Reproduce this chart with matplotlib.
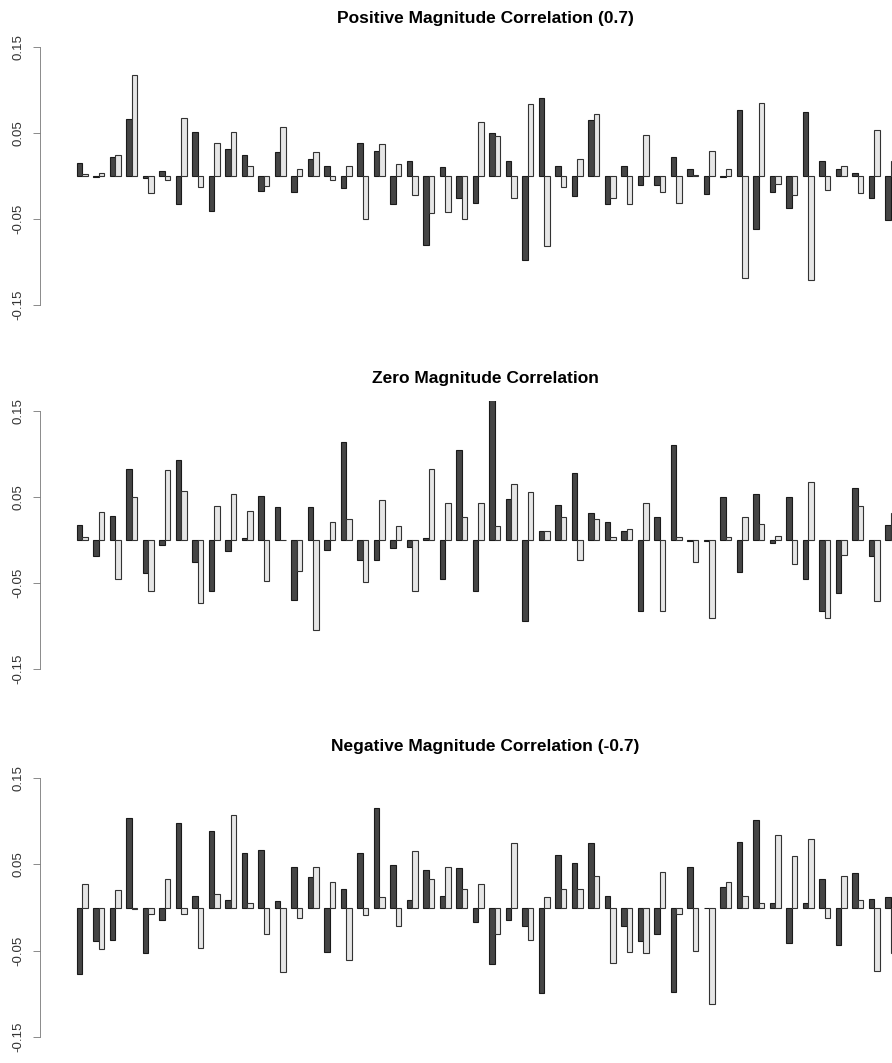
import matplotlib
matplotlib.use("Agg")
import matplotlib.pyplot as plt
import numpy as np

plt.rcParams['font.family'] = ['Liberation Sans', 'DejaVu Sans']

titles = ["Positive Magnitude Correlation (0.7)",
          "Zero Magnitude Correlation",
          "Negative Magnitude Correlation (-0.7)"]

# values, one pair of bars per group
pos_dark = [0.015, -0.001, 0.022, 0.066, -0.002, 0.006, -0.033, 0.051, -0.041, 0.031,
            0.024, -0.017, 0.028, -0.019, 0.020, 0.012, -0.014, 0.038, 0.029, -0.033,
            0.017, -0.080, 0.010, -0.025, -0.031, 0.050, 0.017, -0.098, 0.091, 0.012,
            -0.023, 0.065, -0.033, 0.012, -0.011, -0.011, 0.022, 0.008, -0.021, -0.001,
            0.077, -0.062, -0.019, -0.037, 0.074, 0.017, 0.008, 0.004, -0.025, -0.051]
pos_light = [0.002, 0.003, 0.024, 0.117, -0.020, -0.005, 0.067, -0.013, 0.038, 0.051,
             0.012, -0.012, 0.057, 0.008, 0.028, -0.005, 0.012, -0.050, 0.037, 0.014,
             -0.022, -0.043, -0.042, -0.050, 0.063, 0.046, -0.025, 0.084, -0.081, -0.013,
             0.020, 0.072, -0.026, -0.033, 0.048, -0.019, -0.031, 0.001, 0.029, 0.008,
             -0.119, 0.085, -0.009, -0.022, -0.121, -0.016, 0.012, -0.020, 0.053, 0.017]

zero_dark = [0.017, -0.019, 0.028, 0.082, -0.038, -0.006, 0.093, -0.025, -0.059, -0.013,
             0.002, 0.051, 0.038, -0.070, 0.038, -0.012, 0.114, -0.023, -0.023, -0.009,
             -0.008, 0.002, -0.045, 0.105, -0.059, 0.167, 0.048, -0.094, 0.010, 0.041,
             0.078, 0.031, 0.021, 0.010, -0.082, 0.027, 0.110, -0.001, -0.001, 0.050,
             -0.037, 0.053, -0.003, 0.050, -0.045, -0.082, -0.062, 0.060, -0.019, 0.017]
zero_light = [0.003, 0.033, -0.045, 0.050, -0.059, 0.081, 0.057, -0.073, 0.039, 0.054,
              0.034, -0.048, 0.0005, -0.036, -0.105, 0.021, 0.025, -0.049, 0.047, 0.016,
              -0.059, 0.083, 0.043, 0.027, 0.043, 0.016, 0.065, 0.056, 0.010, 0.027,
              -0.023, 0.024, 0.003, 0.013, 0.043, -0.083, 0.003, -0.026, -0.091, 0.003,
              0.027, 0.019, 0.005, -0.028, 0.067, -0.091, -0.017, 0.040, -0.071, 0.031]

neg_dark = [-0.077, -0.039, -0.038, 0.104, -0.053, -0.015, 0.098, 0.013, 0.089, 0.009,
            0.063, 0.067, 0.007, 0.047, 0.035, -0.052, 0.021, 0.063, 0.115, 0.049,
            0.009, 0.044, 0.013, 0.046, -0.017, -0.066, -0.015, -0.022, -0.099, 0.061,
            0.052, 0.075, 0.013, -0.022, -0.039, -0.031, -0.098, 0.047, -0.001, 0.024,
            0.076, 0.101, 0.005, -0.041, 0.005, 0.033, -0.044, 0.040, 0.010, 0.012]
neg_light = [0.027, -0.048, 0.020, -0.002, -0.008, 0.033, -0.008, -0.047, 0.016, 0.107,
             0.005, -0.031, -0.075, -0.012, 0.047, 0.029, -0.061, -0.009, 0.012, -0.022,
             0.066, 0.033, 0.047, 0.021, 0.027, -0.031, 0.075, -0.038, 0.012, 0.021,
             0.022, 0.036, -0.064, -0.052, -0.053, 0.041, -0.007, -0.050, -0.112, 0.030,
             0.013, 0.005, 0.084, 0.060, 0.079, -0.012, 0.036, 0.009, -0.073, -0.053]

panels = [(pos_dark, pos_light), (zero_dark, zero_light), (neg_dark, neg_light)]

W, H = 892, 1063
fig = plt.figure(figsize=(W / 100, H / 100), dpi=100)

# pixel rows of the 0.15 and -0.15 ticks, and title rows
y_top = [47, 411, 778]
y_bot = [305, 669, 1037]
title_y = [18, 378, 746]

ax_left, ax_right = 40, 980
first_bar = 76.7
unit = 5.5
xlo = 1 + (ax_left - first_bar) / unit
xhi = 1 + (ax_right - first_bar) / unit

for k, (dark, light) in enumerate(panels):
    ppu = (y_bot[k] - y_top[k]) / 0.3
    top_px = y_top[k] - 0.012 * ppu
    bot_px = y_bot[k] + 0.012 * ppu
    ax = fig.add_axes([ax_left / W, 1 - bot_px / H,
                       (ax_right - ax_left) / W, (bot_px - top_px) / H])
    n = len(dark)
    x = np.arange(n) * 3 + 1
    ax.bar(x, dark, width=1, align='edge', color='#454545', edgecolor='#1a1a1a', linewidth=0.8)
    ax.bar(x + 1, light, width=1, align='edge', color='#e6e6e6', edgecolor='#333333', linewidth=0.8)
    ax.set_xlim(xlo, xhi)
    ax.set_ylim(-0.162, 0.162)
    for s in ['top', 'right', 'bottom']:
        ax.spines[s].set_visible(False)
    ax.spines['left'].set_bounds(-0.15, 0.15)
    ax.spines['left'].set_linewidth(0.6)
    ax.spines['left'].set_color('#777777')
    ax.set_xticks([])
    ticks = [-0.15, -0.05, 0.05, 0.15]
    ax.set_yticks(ticks)
    ax.set_yticklabels(["-0.15", "-0.05", "0.05", "0.15"], rotation=90, va='center',
                       fontsize=9.5, color='#333333')
    ax.tick_params(axis='y', direction='out', length=5, width=0.6, color='#777777', pad=6)
    fig.text(485 / W, 1 - title_y[k] / H, titles[k], ha='center', va='center',
             fontsize=12.5, fontweight='bold')

fig.savefig("out.png", dpi=100)
